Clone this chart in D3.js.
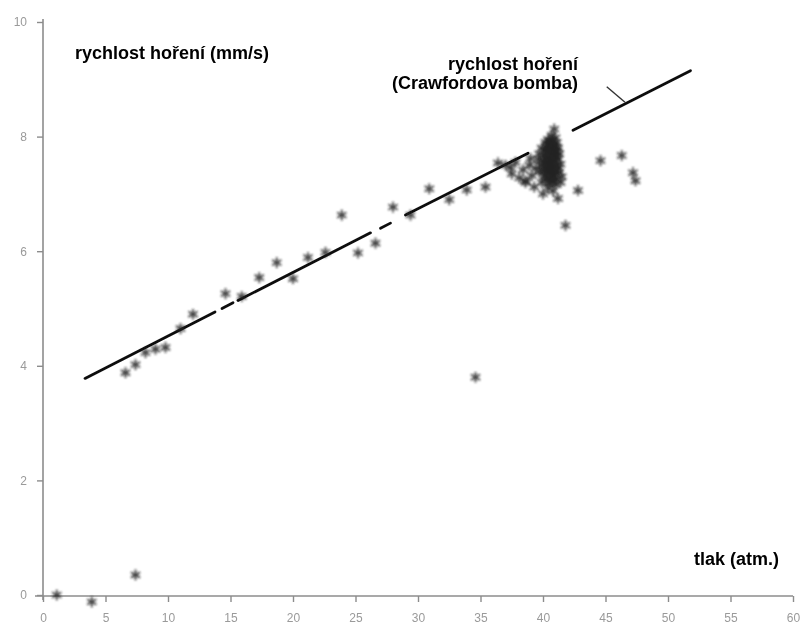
<!DOCTYPE html>
<html>
<head>
<meta charset="utf-8">
<script src="https://cdn.jsdelivr.net/npm/d3@7"></script>
<style>
  html, body { margin: 0; padding: 0; background: #fff; }
  svg { display: block; }
</style>
</head>
<body>
<svg id="chart" width="803" height="624"></svg>
<script>
// ---------- data ----------
const xTicks = [0, 5, 10, 15, 20, 25, 30, 35, 40, 45, 50, 55, 60];
const yTicks = [0, 2, 4, 6, 8, 10];

// points along the fitted line (tlak atm., rychlost mm/s)
const linePoints = [
  [6.6, 3.88], [7.4, 4.02], [8.2, 4.23], [9.0, 4.29], [9.8, 4.32], [11.0, 4.65],
  [12.0, 4.9], [14.6, 5.26], [15.9, 5.21], [17.3, 5.54], [18.7, 5.8], [20.0, 5.52],
  [21.2, 5.89], [22.6, 5.98], [23.9, 6.63], [25.2, 5.97], [26.6, 6.14], [28.0, 6.77],
  [29.4, 6.63], [30.9, 7.09], [32.5, 6.9], [33.9, 7.07], [35.4, 7.12], [36.4, 7.54],
  [37.4, 7.46], [38.6, 7.23]
];

// dense cluster around 40 atm
const clusterPoints = [
  [40.9, 8.13], [40.7, 8.02], [41.0, 7.98], [40.4, 7.95],
  [40.2, 7.9], [40.6, 7.88], [41.1, 7.9], [40.9, 7.85],
  [39.9, 7.8], [40.3, 7.82], [40.7, 7.78], [41.2, 7.8], [40.5, 7.74], [41.0, 7.72],
  [39.7, 7.7], [40.1, 7.68], [40.4, 7.66], [40.8, 7.68], [41.3, 7.7], [40.6, 7.62],
  [39.6, 7.6], [40.0, 7.58], [40.3, 7.56], [40.9, 7.58], [41.2, 7.6], [40.5, 7.52],
  [39.8, 7.5], [40.2, 7.48], [40.7, 7.46], [41.1, 7.5], [41.4, 7.52], [40.4, 7.42],
  [39.7, 7.38], [40.0, 7.4], [40.6, 7.36], [40.9, 7.4], [41.3, 7.38],
  [40.1, 7.3], [40.4, 7.28], [40.8, 7.3], [41.1, 7.26], [41.5, 7.3],
  [39.9, 7.2], [40.5, 7.18], [41.0, 7.16], [41.4, 7.2],
  [40.4, 7.1], [40.8, 7.05], [40.0, 7.0], [41.2, 6.92],
  // core of the cluster
  [40.5, 7.92], [40.8, 7.93], [40.35, 7.86], [40.75, 7.84], [41.05, 7.83],
  [40.15, 7.76], [40.45, 7.79], [40.9, 7.76], [41.15, 7.74], [40.25, 7.72],
  [40.6, 7.7], [40.95, 7.66], [40.2, 7.62], [40.5, 7.6], [40.75, 7.58], [41.05, 7.62],
  [40.1, 7.54], [40.4, 7.5], [40.65, 7.53], [40.95, 7.5], [41.25, 7.45],
  [40.2, 7.43], [40.55, 7.42], [40.8, 7.44], [41.05, 7.4], [40.3, 7.36],
  [40.7, 7.33], [40.95, 7.32], [40.2, 7.25], [40.6, 7.24], [40.85, 7.2],
  // lighter scatter left of the cluster
  [37.0, 7.5], [37.5, 7.35], [37.8, 7.55], [38.1, 7.28], [38.4, 7.42], [38.6, 7.2],
  [38.9, 7.5], [39.1, 7.32], [39.3, 7.12], [39.4, 7.45], [39.0, 7.62]
];

// isolated points
const outlierPoints = [
  [42.8, 7.06], [41.8, 6.45], [44.6, 7.58], [46.3, 7.67], [47.2, 7.37], [47.4, 7.23],
  [34.6, 3.8], [1.1, 0.0], [3.9, -0.12], [7.4, 0.35]
];

// fitted line "rychlost hoření (Crawfordova bomba)", drawn in pieces
const fitSegments = [
  [[3.36, 3.78], [13.76, 4.94]],
  [[14.32, 5.00], [15.2, 5.10]],
  [[15.6, 5.14], [26.2, 6.32]],
  [[27.0, 6.40], [27.8, 6.49]],
  [[29.0, 6.63], [38.8, 7.71]],
  [[42.4, 8.11], [51.8, 9.15]]
];
const leader = [[45.1, 8.87], [46.56, 8.60]];

const labels = {
  yTitle: "rychlost hoření (mm/s)",
  lineTitle1: "rychlost hoření",
  lineTitle2: "(Crawfordova bomba)",
  xTitle: "tlak (atm.)"
};

// ---------- drawing ----------
const svg = d3.select("#chart");
const x = d3.scaleLinear().domain([0, 60]).range([43, 793]);
const y = d3.scaleLinear().domain([0, 10]).range([595, 22]);

const defs = svg.append("defs");
defs.append("filter").attr("id", "soft").attr("x", "-20%").attr("y", "-20%")
  .attr("width", "140%").attr("height", "140%")
  .append("feGaussianBlur").attr("stdDeviation", 0.8);
defs.append("filter").attr("id", "softer")
  .append("feGaussianBlur").attr("stdDeviation", 0.45);

const axisColor = "#8c8c8c";
const labelColor = "#9a9a9a";
const fontFamily = "'Liberation Sans', Arial, Helvetica, sans-serif";

// Y axis
const gy = svg.append("g").attr("transform", `translate(${x(0)},0)`)
  .attr("filter", "url(#softer)")
  .call(d3.axisLeft(y).tickValues(yTicks).tickSize(6).tickPadding(10).tickFormat(d3.format("d")));
gy.select(".domain").remove();
gy.append("line").attr("x1", 0).attr("x2", 0).attr("y1", y(10) - 3).attr("y2", y(0) + 5)
  .attr("stroke", axisColor).attr("stroke-width", 1.6);
gy.selectAll(".tick line").attr("stroke", axisColor).attr("stroke-width", 1.4);
gy.selectAll(".tick text").attr("fill", labelColor).attr("font-size", 12)
  .attr("font-family", fontFamily);

// X axis
const gx = svg.append("g").attr("transform", `translate(0,${y(0) + 1})`)
  .attr("filter", "url(#softer)")
  .call(d3.axisBottom(x).tickValues(xTicks).tickSize(6).tickPadding(11).tickFormat(d3.format("d")));
gx.select(".domain").remove();
gx.append("line").attr("x1", x(0) - 8).attr("x2", x(60)).attr("y1", 0).attr("y2", 0)
  .attr("stroke", axisColor).attr("stroke-width", 1.6);
gx.selectAll(".tick line").attr("stroke", axisColor).attr("stroke-width", 1.4);
gx.selectAll(".tick text").attr("fill", labelColor).attr("font-size", 12)
  .attr("font-family", fontFamily);

// fitted line
const lineGen = d3.line().x(d => x(d[0])).y(d => y(d[1]));
const gl = svg.append("g").attr("filter", "url(#softer)");
gl.selectAll("path.fit").data(fitSegments).join("path")
  .attr("class", "fit")
  .attr("d", lineGen)
  .attr("fill", "none").attr("stroke", "#111").attr("stroke-width", 2.8)
  .attr("stroke-linecap", "round");
gl.append("path").attr("d", lineGen(leader))
  .attr("fill", "none").attr("stroke", "#333").attr("stroke-width", 1.4);

// points
const star = d3.symbol().type(d3.symbolAsterisk).size(80);
const gp = svg.append("g").attr("filter", "url(#soft)");
const allPoints = linePoints.concat(clusterPoints, outlierPoints);
gp.selectAll("path.pt").data(allPoints).join("path")
  .attr("class", "pt")
  .attr("transform", d => `translate(${x(d[0])},${y(d[1])})`)
  .attr("d", star)
  .attr("fill", "none").attr("stroke", "#222").attr("stroke-width", 1.8)
  .attr("stroke-opacity", 0.85);

// texts
const tstyle = sel => sel.attr("font-family", fontFamily).attr("font-weight", "bold")
  .attr("font-size", 18).attr("fill", "#000");
svg.append("text").text(labels.yTitle).attr("x", 75).attr("y", 59).call(tstyle);
svg.append("text").text(labels.lineTitle1).attr("x", 578).attr("y", 70)
  .attr("text-anchor", "end").call(tstyle);
svg.append("text").text(labels.lineTitle2).attr("x", 578).attr("y", 89)
  .attr("text-anchor", "end").call(tstyle);
svg.append("text").text(labels.xTitle).attr("x", 779).attr("y", 565)
  .attr("text-anchor", "end").call(tstyle);
</script>
</body>
</html>
